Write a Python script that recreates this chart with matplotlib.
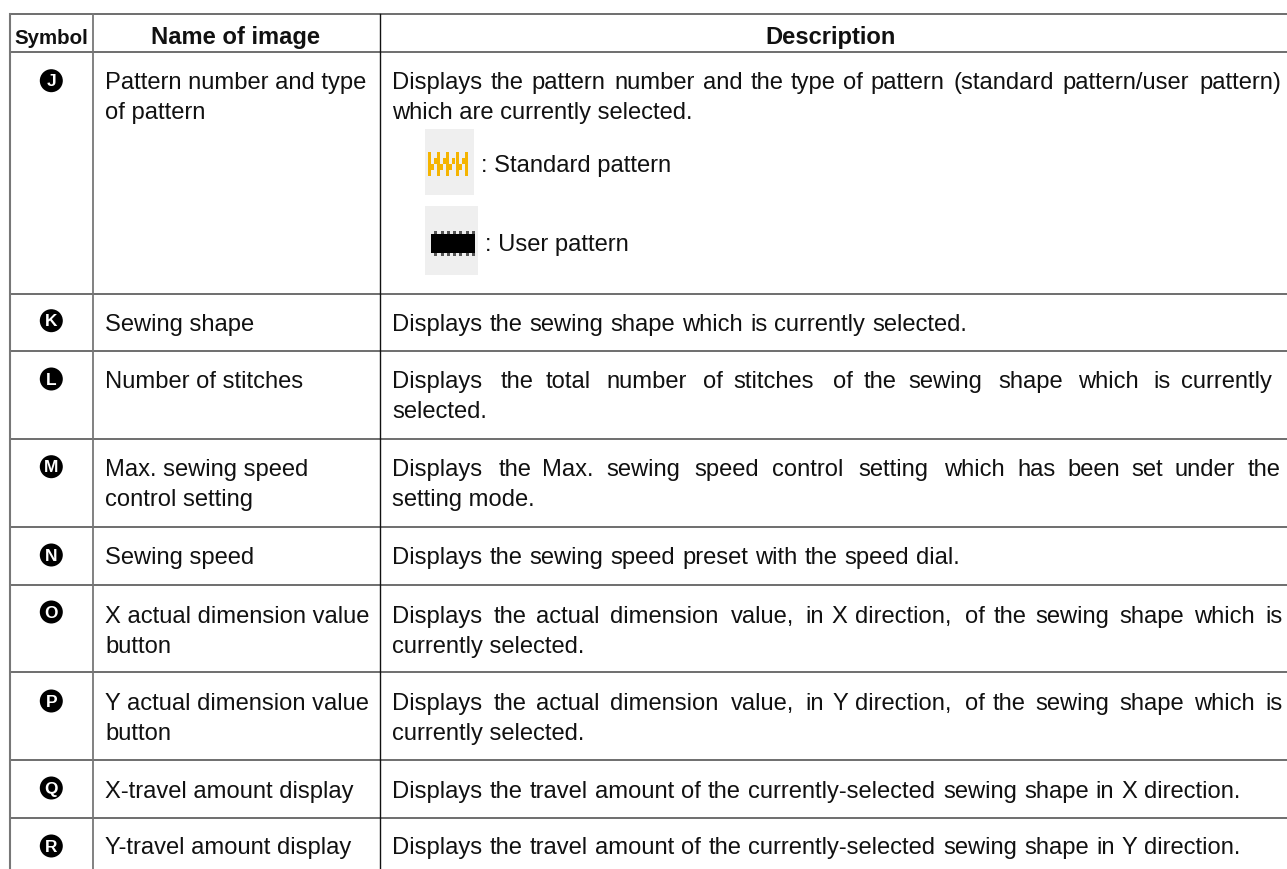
import matplotlib.pyplot as plt
from matplotlib.patches import Circle, Rectangle

W, H = 1287, 870

col_x = [10, 93, 380]
row_y = [15, 53, 294.5, 352, 440, 528, 585.5, 673, 761, 819]
headers = ["Symbol", "Name of image", "Description"]
symbols = ["J", "K", "L", "M", "N", "O", "P", "Q", "R"]
symbol_y = [81.7, 321.7, 380, 467.7, 556, 613, 702, 789, 847]
names = [
    ["Pattern number and type", "of pattern"],
    ["Sewing shape"],
    ["Number of stitches"],
    ["Max. sewing speed", "control setting"],
    ["Sewing speed"],
    ["X actual dimension value", "button"],
    ["Y actual dimension value", "button"],
    ["X-travel amount display"],
    ["Y-travel amount display"],
]
descriptions = [
    ["Displays the pattern number and the type of pattern (standard pattern/user pattern)",
     "which are currently selected."],
    ["Displays the sewing shape which is currently selected."],
    ["Displays the total number of stitches of the sewing shape which is currently",
     "selected."],
    ["Displays the Max. sewing speed control setting which has been set under the",
     "setting mode."],
    ["Displays the sewing speed preset with the speed dial."],
    ["Displays the actual dimension value, in X direction, of the sewing shape which is",
     "currently selected."],
    ["Displays the actual dimension value, in Y direction, of the sewing shape which is",
     "currently selected."],
    ["Displays the travel amount of the currently-selected sewing shape in X direction."],
    ["Displays the travel amount of the currently-selected sewing shape in Y direction."],
]
first_line_end = [1283, 968, 1283, 1283, 960, 1283, 1283, 1241, 1241]
baselines = [88.7, 330.7, 387.7, 475.7, 563.7, 622.7, 709.7, 797.7, 854.2]
std_bars = [428, 437, 446, 456, 465]
user_ticks = [434, 441, 447, 453, 459, 466, 472]
LINE = 30.7
FONT = 17.15
INK = '#111111'

plt.rcParams['font.family'] = ['Liberation Sans', 'DejaVu Sans']
fig = plt.figure(figsize=(W / 100, H / 100), dpi=100)
ax = fig.add_axes([0, 0, 1, 1])
ax.set_xlim(0, W)
ax.set_ylim(H, 0)
ax.axis('off')
renderer = fig.canvas.get_renderer()


def text_width(s):
    t = ax.text(0, 0, s, fontsize=FONT)
    w = t.get_window_extent(renderer).width
    t.remove()
    return w


def justified(line, x0, x1, y):
    # no letter spacing in matplotlib, so each word goes where tracked text would put it
    track = (x1 - x0 - text_width(line)) / (len(line) - 1)
    pos = 0
    for word in line.split(' '):
        x = x0 + text_width(line[:pos]) + pos * track
        ax.text(x, y, word, fontsize=FONT, color=INK, va='baseline')
        pos += len(word) + 1


# table grid
for y in row_y:
    ax.plot([col_x[0], W + 5], [y, y], color='#555555', lw=1.2)
ax.plot([col_x[0], col_x[0]], [row_y[0], H], color='#777777', lw=1.5)
ax.plot([col_x[1], col_x[1]], [row_y[0], H], color='#777777', lw=1.3)
ax.plot([col_x[2], col_x[2]], [row_y[0], H], color=INK, lw=1.0)

# header
ax.text(51.5, 43.7, headers[0], fontsize=14.8, fontweight='bold', ha='center', va='baseline', color=INK)
ax.text(236, 43.7, headers[1], fontsize=FONT, fontweight='bold', ha='center', va='baseline', color=INK)
ax.text(831, 43.7, headers[2], fontsize=FONT, fontweight='bold', ha='center', va='baseline', color=INK)

# rows
for i in range(len(symbols)):
    ax.add_patch(Circle((51.3, symbol_y[i]), 11.5, color='black', lw=0))
    ax.text(51.3, symbol_y[i] + 0.3, symbols[i], color='white', fontsize=12.5,
            fontweight='bold', ha='center', va='center')
    for j, s in enumerate(names[i]):
        ax.text(105, baselines[i] + j * LINE, s, fontsize=FONT, color=INK, va='baseline')
    for j, s in enumerate(descriptions[i]):
        y = baselines[i] + j * LINE
        if j == 0:
            justified(s, 392, first_line_end[i], y)
        else:
            ax.text(392, y, s, fontsize=FONT, color=INK, va='baseline')

# pattern type icons
ax.add_patch(Rectangle((425, 130), 49, 66, fc='#efefef', lw=0))
ax.add_patch(Rectangle((425, 207), 53, 69, fc='#efefef', lw=0))
for k, bx in enumerate(std_bars):
    ax.add_patch(Rectangle((bx, 153), 3, 24, fc='#f5b400', lw=0))
    if k < len(std_bars) - 1:
        ax.add_patch(Rectangle((bx + 3, 165), 3, 6, fc='#f5b400', lw=0))
        ax.add_patch(Rectangle((bx + 6, 159), 3, 6, fc='#f5b400', lw=0))
ax.add_patch(Rectangle((431, 235), 44, 19, fc='black', lw=0))
for tx in user_ticks:
    ax.add_patch(Rectangle((tx, 232), 3, 3, fc='#555555', lw=0))
    ax.add_patch(Rectangle((tx, 254), 3, 3, fc='#555555', lw=0))
ax.text(481, 171.7, ": Standard pattern", fontsize=FONT, color=INK, va='baseline')
ax.text(485, 250.7, ": User pattern", fontsize=FONT, color=INK, va='baseline')

fig.savefig('out.png', dpi=100)
